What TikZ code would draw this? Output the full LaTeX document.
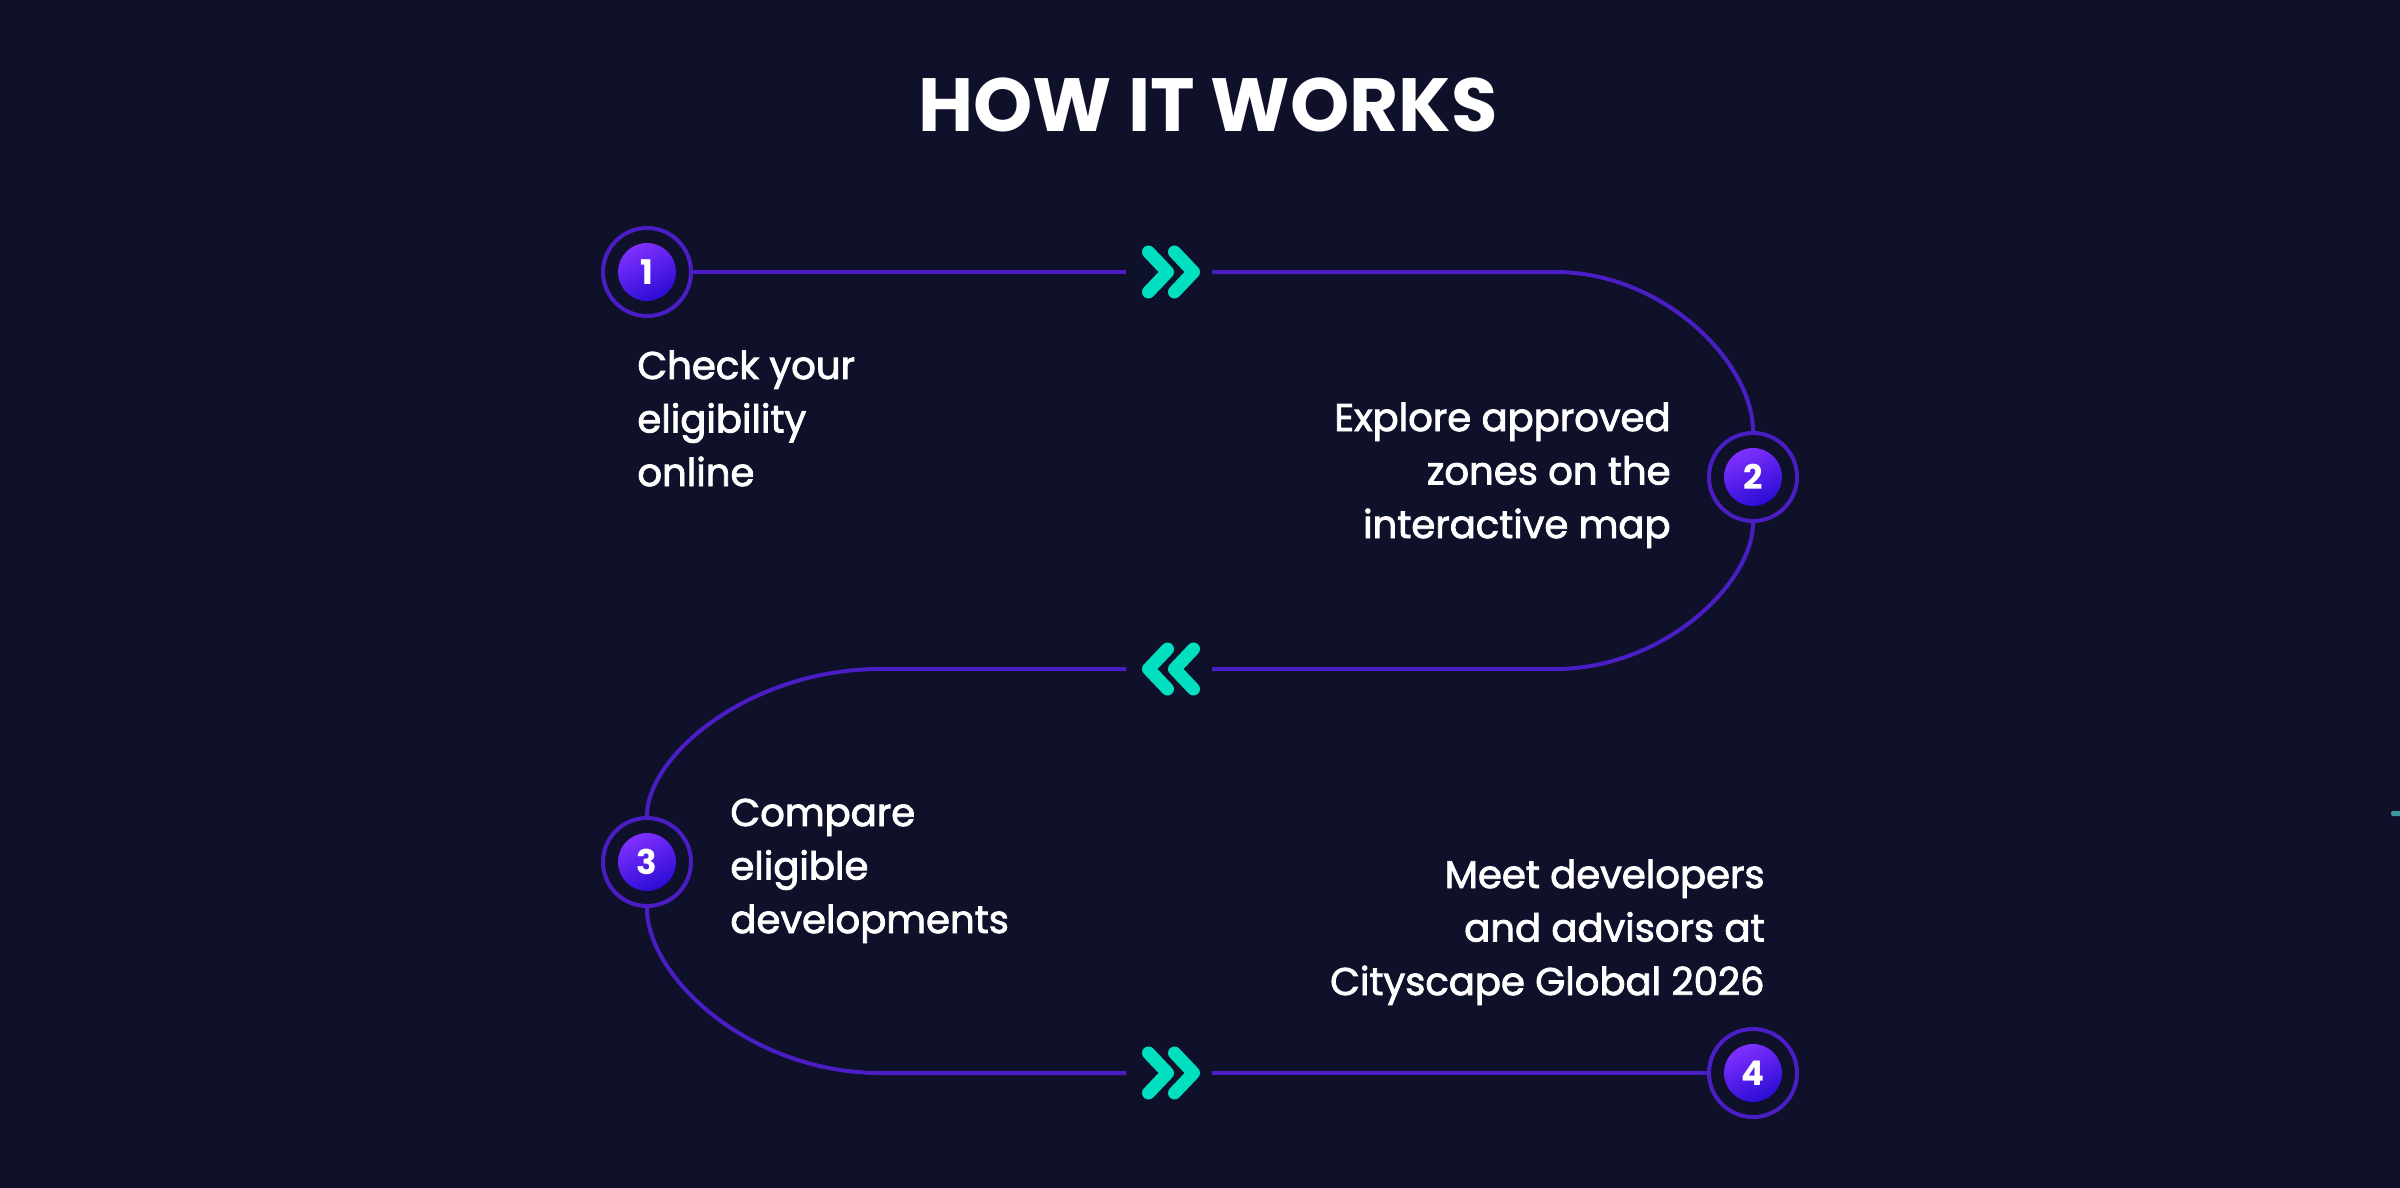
\documentclass[tikz,border=0pt]{standalone}
\usepackage{fontspec}
\setmainfont{Poppins}
\newfontfamily\medfont{Poppins}[FakeBold=2.2]
\usetikzlibrary{calc}
\definecolor{bgc}{RGB}{15,16,42}
\definecolor{flowc}{RGB}{74,30,196}
\definecolor{chevc}{RGB}{0,223,192}
\definecolor{diskA}{RGB}{128,48,255}
\definecolor{diskB}{RGB}{42,12,212}
\definecolor{markc}{RGB}{60,150,160}
\newcommand\leftlines[1]{\vtop{\halign{##\hfil\cr#1\crcr}}}
\newcommand\rightlines[1]{\vtop{\halign{\hfil##\cr#1\crcr}}}
\tikzset{
  flow/.style={draw=flowc, line width=2pt},
  chev/.style={draw=chevc, line width=6.5pt, line cap=round, line join=round},
  ring/.style={circle, draw=flowc, line width=2pt, fill=bgc, minimum size=44pt, inner sep=0pt},
  disk/.style={circle, minimum size=29pt, inner sep=0pt, top color=diskA, bottom color=diskB, shading angle=25, text=white, font=\bfseries\fontsize{17pt}{17pt}\selectfont},
  gapbox/.style={minimum width=43pt, minimum height=28pt, inner sep=0pt, outer sep=0pt},
  steplabel/.style={text=white, inner sep=0pt, font=\medfont\fontsize{19.3pt}{26.75pt}\selectfont},
  titlestyle/.style={text=white, inner sep=0pt, font=\bfseries\fontsize{37.7pt}{40pt}\selectfont}
}
\begin{document}
\begin{tikzpicture}[x=0.5pt, y=-0.5pt]
\fill[bgc] (0,0) rectangle (2400,1188);
\useasboundingbox (0,0) rectangle (2400,1188);
\fill[markc, rounded corners=1pt] (2391,811) rectangle (2402,816);

\node[titlestyle, anchor=base] (title) at (1208,132) {HOW IT WORKS};

% step circles
\node[ring] (c1) at (647,272) {};
\node[ring] (c2) at (1753,477) {};
\node[ring] (c3) at (647,862) {};
\node[ring] (c4) at (1753,1073) {};

% chevron gaps
\node[gapbox] (chA) at (1169,272) {};
\node[gapbox] (chB) at (1169,669) {};
\node[gapbox] (chC) at (1169,1073) {};

% turning points
\coordinate (t2) at (1555,272);
\coordinate (b2) at (1555,669);
\coordinate (b3) at (880,669);
\coordinate (b4) at (880,1073);

% flow path
\draw[flow] (c1) -- (chA);
\draw[flow] (chA) -- (t2) .. controls (1664,272) and (1753,363) .. (c2);
\draw[flow] (c2) .. controls (1753,583) and (1664,669) .. (b2) -- (chB);
\draw[flow] (chB) -- (b3) .. controls (751,669) and (647,755) .. (c3);
\draw[flow] (c3) .. controls (647,978) and (751,1073) .. (b4) -- (chC);
\draw[flow] (chC) -- (c4);

% chevrons
\draw[chev, shift={(chA)}] (-20.5,-20) -- (-1.5,0) -- (-20.5,20) (5.5,-20) -- (24.5,0) -- (5.5,20);
\draw[chev, shift={(chB)}] (-1.5,-20) -- (-20.5,0) -- (-1.5,20) (24.5,-20) -- (5.5,0) -- (24.5,20);
\draw[chev, shift={(chC)}] (-20.5,-20) -- (-1.5,0) -- (-20.5,20) (5.5,-20) -- (24.5,0) -- (5.5,20);

% numbered disks
\node[disk] (d1) at (c1) {1};
\node[disk] (d2) at (c2) {2};
\node[disk] (d3) at (c3) {3};
\node[disk] (d4) at (c4) {4};

% labels
\node[steplabel, anchor=base west] (l1) at (637,379) {\leftlines{Check your\cr eligibility\cr online}};
\node[steplabel, anchor=base east] (l2) at (1671,431) {\rightlines{Explore approved\cr zones on the\cr interactive map}};
\node[steplabel, anchor=base west] (l3) at (730,826) {\leftlines{Compare\cr eligible\cr developments}};
\node[steplabel, anchor=base east] (l4) at (1765,888) {\rightlines{Meet developers\cr and advisors at\cr Cityscape Global 2026}};
\end{tikzpicture}
\end{document}
